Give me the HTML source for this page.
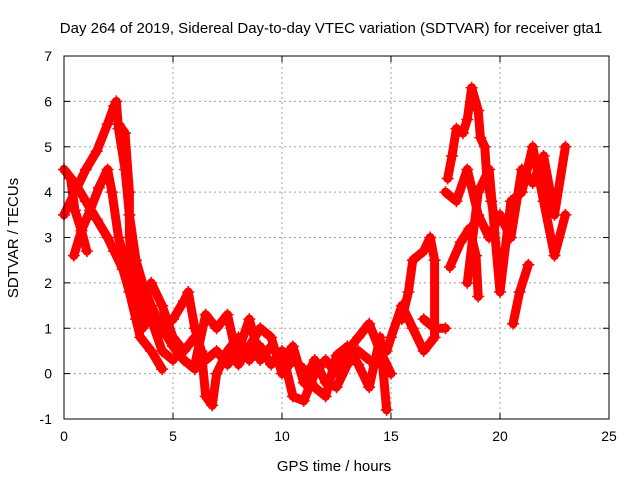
<!DOCTYPE html>
<html><head><meta charset="utf-8"><style>
body{margin:0;background:#fff;}
svg{display:block;font-family:"Liberation Sans",sans-serif;}
</style></head><body>
<svg id="chart" width="640" height="480" viewBox="0 0 640 480">
<rect x="0" y="0" width="640" height="480" fill="#fff"/>
<g id="grid"></g>
<g id="series"></g>
<rect x="64" y="56" width="545" height="363" fill="none" stroke="#000" stroke-width="1"/>
<g id="ticks" font-size="14"></g>
<text x="331" y="33" font-size="15" text-anchor="middle">Day 264 of 2019, Sidereal Day-to-day VTEC variation (SDTVAR) for receiver gta1</text>
<text x="334" y="471" font-size="15" text-anchor="middle">GPS time / hours</text>
<text x="18" y="238" font-size="15" text-anchor="middle" transform="rotate(-90 18 238)">SDTVAR / TECUs</text>
</svg>
<script>
const xTicks=[0,5,10,15,20,25];
const yTicks=[-1,0,1,2,3,4,5,6,7];
const track1=[[0,3.5],[0.5,4.0],[1,4.5],[1.5,4.9],[2,5.5],[2.3,5.9],[2.4,6.0],[2.5,5.4],[2.8,4.5],[3,3.5],[3.3,2.5],[3.6,2.0],[4,1.5],[4.5,1.0],[5,0.6],[5.5,0.3],[6,0.1]];
const track2=[[0,4.5],[0.5,4.2],[1,3.8],[1.5,3.4],[2,3.0],[2.3,2.7],[2.7,2.3],[3,1.8],[3.3,1.2],[3.5,0.8],[4,0.5],[4.5,0.1]];
const track3=[[0.3,4.3],[0.5,3.6],[0.8,3.15],[1.05,2.7]];
const track3b=[[0.45,2.6],[0.8,3.15],[1.2,3.6],[1.6,4.1],[2,4.5],[2.2,4.0],[2.5,3.0],[2.8,2.5],[3,2.2],[3.5,1.8],[4,1.2],[4.5,0.5],[5,0.3]];
const track4=[[2.5,5.5],[2.8,5.3],[3,4.0],[3,3.0],[3.2,2.0],[3.5,1.5],[3.6,1.0],[4,1.3],[4.5,1.0],[5,1.2]];
const track5=[[5,1.2],[5.5,1.6],[5.7,1.8],[6,1.0],[6.3,0.5],[6.5,-0.5],[6.8,-0.7],[7,0],[7.5,0.5],[8,0.8],[8.5,0.3],[9,0.6],[9.5,0.2],[10,0.5],[10.5,-0.5],[11,-0.6],[11.5,0],[12,0.3],[12.5,0],[13,0.5],[13.5,0.8],[14,1.1],[14.5,0.5],[15,0]];
const track6=[[6,0.2],[6.5,1.3],[7,1.0],[7.5,1.3],[8,0.2],[8.5,0.6],[9,1.0],[9.5,0.8],[10,0],[10.5,0.3],[11,0.1],[11.5,-0.3],[12,-0.5],[12.5,0.4],[13,0.6],[13.5,0.2],[14,-0.3],[14.5,0.8],[14.8,-0.8]];
const track13=[[4,2.0],[4.5,1.5],[5,0.8],[5.5,0.5],[6,0.8],[6.5,0.3],[7,0.5],[7.5,0.2],[8,0.5],[8.5,1.2],[9,0.3],[9.5,0.6],[10,0.3],[10.5,0.6],[11,-0.2],[11.5,0.3],[12,-0.2],[12.5,-0.3],[13,0.2],[13.5,0.5],[14,0.3]];
const track7=[[14.8,0.5],[15,0.8],[15.5,1.5],[16,1.0],[16.5,0.5],[17,0.8],[17,2.5],[16.8,3.0],[16.5,2.7],[16,2.5],[15.8,1.8],[15.5,1.2]];
const track8=[[16.5,1.2],[17,1.0],[17.5,1.0]];
const track9=[[17.6,4.3],[17.8,4.8],[18,5.4],[18.3,5.3],[18.5,5.6],[18.7,6.3],[19.0,5.8],[19.1,5.2],[19.3,5.0],[19.4,4.3],[19.6,3.8],[19.8,3.3]];
const track10=[[17.5,4.0],[18,3.8],[18.5,4.5],[19,3.5],[19.5,3.0],[20,3.5],[20.5,3.0],[21,4.5],[21.5,4.2],[22,4.8],[22.5,3.5],[23,5.0]];
const track11=[[17.7,2.35],[18.2,2.9],[18.6,3.2],[18.9,2.6],[19.0,1.7]];
const track12=[[18.5,2.0],[19,4.0],[19.5,4.5],[20,1.8],[20.5,3.8],[21,4.0],[21.5,5.0],[22,3.8],[22.5,2.6],[23,3.5]];
const track14=[[20.6,1.1],[20.9,1.8],[21.3,2.4]];
const tracks=[track1,track2,track3,track3b,track4,track5,track6,track13,track7,track8,track9,track10,track11,track12,track14];
const X0=64,X1=609,Y0=419,Y1=56,xMin=0,xMax=25,yMin=-1,yMax=7;
function sx(v){return X0+(v-xMin)/(xMax-xMin)*(X1-X0);}
function sy(v){return Y0-(v-yMin)/(yMax-yMin)*(Y0-Y1);}
const NS='http://www.w3.org/2000/svg';
const grid=document.getElementById('grid'),ticks=document.getElementById('ticks'),ser=document.getElementById('series');
function mk(tag,attrs,parent){const e=document.createElementNS(NS,tag);for(const k in attrs)e.setAttribute(k,attrs[k]);parent.appendChild(e);return e;}
xTicks.forEach(t=>{const x=sx(t);
 if(t>xMin&&t<xMax){const g=mk('line',{x1:x,y1:Y0,x2:x,y2:Y1,stroke:'#a0a0a0','stroke-dasharray':'2,3'},grid);
 
 }
 const tk=mk('path',{d:`M${x} ${Y0}v-6M${x} ${Y1}v6`,stroke:'#000'},ticks);
 
 
 const l=mk('text',{x:x,y:Y0+22,'text-anchor':'middle'},ticks);l.textContent=t;
 
 });
yTicks.forEach(t=>{const y=sy(t);
 if(t>yMin&&t<yMax){const g=mk('line',{x1:X0,y1:y,x2:X1,y2:y,stroke:'#a0a0a0','stroke-dasharray':'2,3'},grid);
 
 }
 const tk=mk('path',{d:`M${X0} ${y}h6M${X1} ${y}h-6`,stroke:'#000'},ticks);
 
 
 const l=mk('text',{x:X0-12,y:y+5,'text-anchor':'end'},ticks);l.textContent=t;
 
 });
tracks.forEach(tr=>{
 const pl=mk('polyline',{points:tr.map(p=>sx(p[0])+','+sy(p[1])).join(' '),fill:'none',stroke:'#ff0000','stroke-width':9,'stroke-linejoin':'round','stroke-linecap':'round'},ser);
 
 
 tr.forEach(p=>{const x=sx(p[0]),y=sy(p[1]);
  const m=mk('path',{d:`M${x-6} ${y}h12M${x} ${y-6}v12`,stroke:'#ff0000','stroke-width':1.5},ser);
  
  });
});
</script>
</body></html>
